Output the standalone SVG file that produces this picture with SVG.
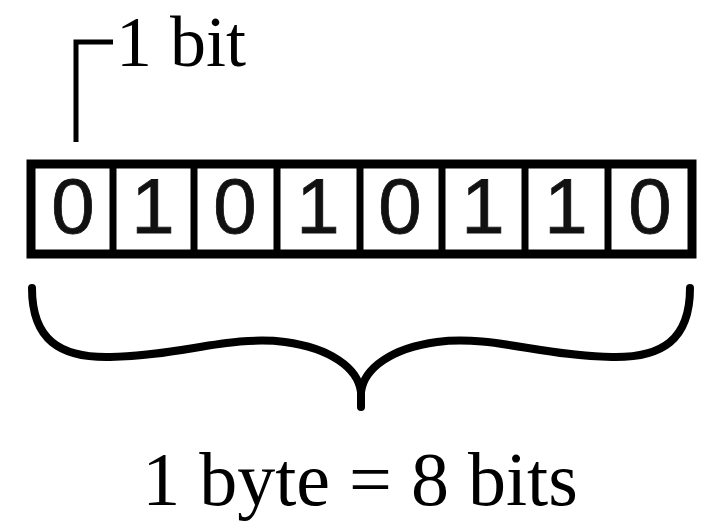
<svg xmlns="http://www.w3.org/2000/svg" width="709" height="522" viewBox="0 0 709 522">
<style>
.serif{font-family:"Liberation Serif","Times New Roman",serif;fill:#000}
.digit{font-family:"Liberation Sans",Arial,sans-serif;font-size:78px;fill:#111;stroke:#111;stroke-width:0.8;text-anchor:middle}
.line{fill:none;stroke:#000}
</style>
<rect width="709" height="522" fill="#fff"/>
<g id="bit-label">
<text class="serif" x="116" y="66" font-size="72">1 bit</text>
</g>
<g id="byte">
<rect class="line" x="31" y="164" width="661" height="90" stroke-width="9"/>
<g class="line" stroke-width="7">
<line x1="113" y1="164" x2="113" y2="254"/>
<line x1="194" y1="164" x2="194" y2="254"/>
<line x1="277" y1="164" x2="277" y2="254"/>
<line x1="360" y1="164" x2="360" y2="254"/>
<line x1="442" y1="164" x2="442" y2="254"/>
<line x1="525" y1="164" x2="525" y2="254"/>
<line x1="608" y1="164" x2="608" y2="254"/>
</g>
<text class="digit" x="73" y="233">0</text>
<text class="digit" x="153" y="233">1</text>
<text class="digit" x="235" y="233">0</text>
<text class="digit" x="318" y="233">1</text>
<text class="digit" x="400" y="233">0</text>
<text class="digit" x="483" y="233">1</text>
<text class="digit" x="566" y="233">1</text>
<text class="digit" x="650" y="233">0</text>
</g>
<g id="connectors">
<path class="line" stroke-width="5" d="M76 142 V42 H113"/>
<path class="line" stroke-width="8" stroke-linecap="round" d="M32 288 C32 340 60 358 110 357 C180 356 230 335 285 342 C330 348 358 368 361 392 L361 407 M361 392 C364 368 392 348 437 342 C492 335 542 356 612 357 C662 358 690 340 690 288"/>
</g>
<g id="byte-label">
<text class="serif" x="360" y="505" font-size="76" text-anchor="middle">1 byte = 8 bits</text>
</g>
</svg>
